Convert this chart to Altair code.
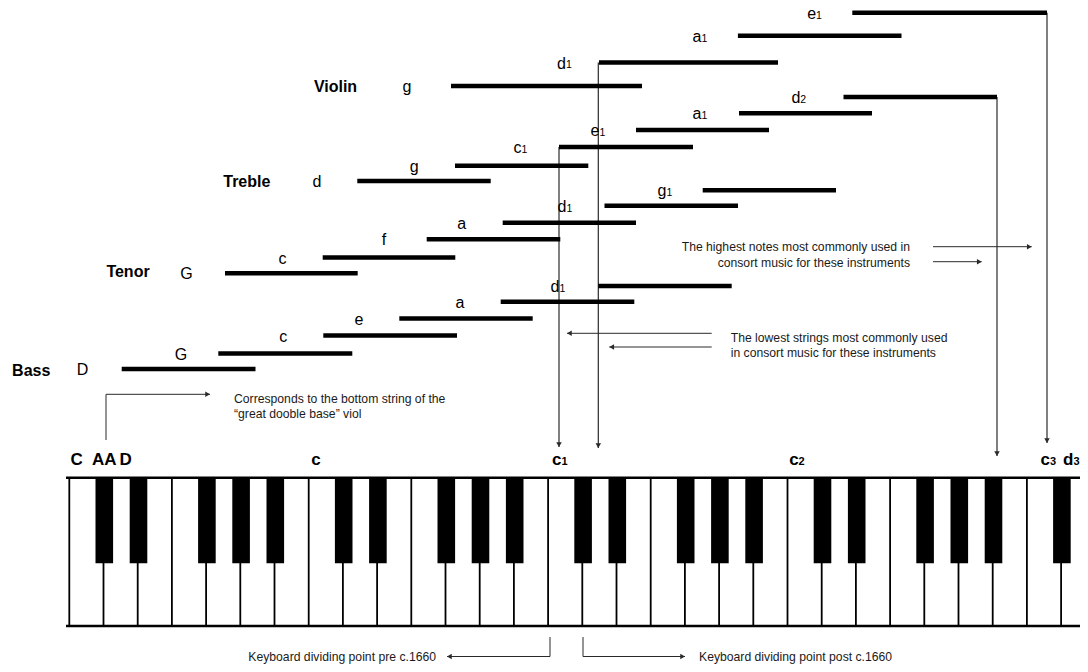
import altair as alt
import pandas as pd

# ---------------- values (diagram units = reference pixels) ----------------
# one bar per open string: from the open note to the highest note normally played on it
string_instr = ["Bass"] * 6 + ["Tenor"] * 6 + ["Treble"] * 6 + ["Violin"] * 4
string_note = ["D", "G", "c", "e", "a", "d",
               "G", "c", "f", "a", "d", "g",
               "d", "g", "c", "e", "a", "d",
               "g", "d", "a", "e"]
string_sub = ["", "", "", "", "", "1",
              "", "", "", "", "1", "1",
              "", "", "1", "1", "1", "2",
              "", "1", "1", "1"]
string_start = [121.7, 218.3, 323.3, 399.3, 500.7, 598.3,
                225.0, 322.7, 426.7, 502.7, 604.5, 702.7,
                357.3, 455.0, 559.0, 636.0, 739.0, 843.5,
                451.0, 599.0, 737.9, 852.3]
string_end = [255.5, 352.3, 457.0, 532.7, 634.3, 731.7,
              357.7, 455.3, 560.3, 636.0, 738.0, 836.0,
              490.7, 588.3, 693.0, 769.0, 872.0, 997.0,
              642.0, 778.0, 901.5, 1047.0]
string_y = [369.0, 353.5, 335.5, 318.5, 301.7, 286.0,
            273.3, 257.5, 239.3, 222.7, 205.7, 190.3,
            181.0, 165.7, 147.0, 130.0, 113.3, 97.0,
            86.0, 62.5, 35.7, 12.7]
string_label_x = [82.5, 181.0, 283.3, 359.0, 460.0, 558.0,
                  186.5, 282.5, 384.0, 461.7, 565.0, 665.0,
                  317.0, 414.3, 520.0, 598.0, 700.0, 798.8,
                  407.0, 564.5, 700.0, 814.6]

instrument_names = ["Bass", "Tenor", "Treble", "Violin"]
instrument_x = [31.2, 128.0, 246.8, 335.5]
instrument_y = [370.0, 270.7, 180.7, 85.7]

# keyboard
white_key_names = ["C", "D", "E", "F", "G", "A", "B"]
n_white_keys = 31
black_after = ["C", "D", "F", "G", "A"]
keyboard_label_base = ["C", "AA", "D", "c", "c", "c", "c", "d"]
keyboard_label_sub = ["", "", "", "", "1", "2", "3", "3"]
keyboard_label_x = [76.7, 104.2, 125.6, 316.0, 559.5, 796.6, 1047.9, 1071.5]

# pointers from the ranges down to the keyboard
pointer_x = [559.0, 598.3, 997.0, 1047.0]
pointer_top = [147.0, 62.5, 97.0, 12.7]
pointer_tip = [447.0, 448.0, 456.0, 443.0]

# annotation leader lines
leader_x1 = [933.0, 933.0, 711.7, 711.7, 106.0, 106.0, 550.0, 550.0, 583.0, 583.0]
leader_y1 = [246.7, 261.7, 333.3, 347.0, 440.0, 394.3, 637.0, 656.5, 637.0, 656.5]
leader_x2 = [1031.7, 981.7, 567.0, 609.3, 106.0, 210.0, 550.0, 447.0, 583.0, 685.0]
leader_y2 = [246.7, 261.7, 333.3, 347.0, 394.3, 394.3, 656.5, 656.5, 656.5, 656.5]
leader_head = ["right", "right", "left", "left", "", "right", "", "left", "", "right"]

note_text = ["The highest notes most commonly used in",
             "consort music for these instruments",
             "The lowest strings most commonly used",
             "in consort music for these instruments",
             "Corresponds to the bottom string of the",
             "\u201cgreat dooble base\u201d viol",
             "Keyboard dividing point pre c.1660",
             "Keyboard dividing point post c.1660"]
note_x = [910.0, 910.0, 730.7, 730.7, 234.0, 234.0, 436.0, 699.0]
note_y = [247.3, 263.3, 337.7, 353.3, 398.5, 414.3, 656.5, 656.5]
note_align = ["right", "right", "left", "left", "left", "left", "right", "left"]

# ---------------- layout ----------------
KB_LEFT, KB_KEY = 69.3, 34.2
KB_TOP, KB_BOTTOM, BLACK_BOTTOM, BLACK_W = 477.7, 626.0, 563.3, 17.6
LINE = "#2a2a2a"
FONT = "Liberation Sans"

X = alt.Scale(domain=[8, 1080], nice=False, zero=False)
Y = alt.Scale(domain=[8, 664], reverse=True, nice=False, zero=False)


def xq(f):
    return alt.X(f, type="quantitative", scale=X, axis=None)


def yq(f):
    return alt.Y(f, type="quantitative", scale=Y, axis=None)


# keyboard frames
white = pd.DataFrame({"i": list(range(n_white_keys))})
white["name"] = [white_key_names[i % 7] for i in white["i"]]
white["x"] = KB_LEFT + white["i"] * KB_KEY
white["y"] = KB_TOP
white["y2"] = KB_BOTTOM
black = white[white["name"].isin(black_after)].copy()
black["xc"] = KB_LEFT + (black["i"] + 1) * KB_KEY + 0.8
black["x1"] = black["xc"] - BLACK_W / 2
black["x2"] = black["xc"] + BLACK_W / 2
black["y1"] = KB_TOP
black["y2"] = BLACK_BOTTOM
edges = pd.DataFrame({"x": [66.0, 66.0], "x2": [1090.0, 1090.0], "y": [KB_TOP, KB_BOTTOM]})

kb_lab = pd.DataFrame({"base": keyboard_label_base, "sub": keyboard_label_sub, "x": keyboard_label_x})
kb_lab["y"] = 465.3
kb_lab["j"] = kb_lab["x"] + 2.0

strings = pd.DataFrame({"instr": string_instr, "note": string_note, "sub": string_sub,
                        "start": string_start, "end": string_end, "y": string_y,
                        "lx": string_label_x})
strings["j"] = strings["lx"] + 1.5

instr = pd.DataFrame({"name": instrument_names, "x": instrument_x, "y": instrument_y})

pointers = pd.DataFrame({"x": pointer_x, "top": pointer_top, "tip": pointer_tip})
leaders = pd.DataFrame({"x1": leader_x1, "y1": leader_y1, "x2": leader_x2, "y2": leader_y2,
                        "head": leader_head})

heads = []
for r in pointers.itertuples():
    heads.append({"x": r.x, "y": r.tip - 2.4, "dir": "down"})
for r in leaders.itertuples():
    if r.head == "right":
        heads.append({"x": r.x2 - 2.4, "y": r.y2, "dir": "right"})
    elif r.head == "left":
        heads.append({"x": r.x2 + 2.4, "y": r.y2, "dir": "left"})
heads = pd.DataFrame(heads)

notes = pd.DataFrame({"text": note_text, "x": note_x, "y": note_y, "align": note_align})

# ---------------- layers ----------------
key_lines = alt.Chart(white).mark_rule(color="black", strokeWidth=1.8).encode(
    x=xq("x"), y=yq("y"), y2="y2")
edge_lines = alt.Chart(edges).mark_rule(color="black", strokeWidth=2.4).encode(
    x=xq("x"), x2="x2", y=yq("y"))
black_keys = alt.Chart(black).mark_rect(color="black").encode(
    x=xq("x1"), x2="x2", y=yq("y1"), y2="y2")

kb_plain = alt.Chart(kb_lab[kb_lab["sub"] == ""]).mark_text(
    font=FONT, fontSize=17, fontWeight="bold", align="center", baseline="alphabetic", color="black"
).encode(x=xq("x"), y=yq("y"), text="base:N")
kb_base = alt.Chart(kb_lab[kb_lab["sub"] != ""]).mark_text(
    font=FONT, fontSize=17, fontWeight="bold", align="right", baseline="alphabetic", color="black"
).encode(x=xq("j"), y=yq("y"), text="base:N")
kb_sub = alt.Chart(kb_lab[kb_lab["sub"] != ""]).mark_text(
    font=FONT, fontSize=11, fontWeight="bold", align="left", baseline="alphabetic", color="black"
).encode(x=xq("j"), y=yq("y"), text="sub:N")

bars = alt.Chart(strings).mark_rule(color="black", strokeWidth=4.5, strokeCap="butt").encode(
    x=xq("start"), x2="end", y=yq("y"))

pointer_lines = alt.Chart(pointers).mark_rule(color=LINE, strokeWidth=1.2).encode(
    x=xq("x"), y=yq("top"), y2="tip")
leader_lines = alt.Chart(leaders).mark_rule(color=LINE, strokeWidth=1.0).encode(
    x=xq("x1"), y=yq("y1"), x2="x2", y2="y2")
arrow_heads = alt.Chart(heads).mark_point(filled=True, color=LINE, opacity=1, size=30).encode(
    x=xq("x"), y=yq("y"),
    shape=alt.Shape("dir:N", legend=None,
                    scale=alt.Scale(domain=["down", "right", "left"],
                                    range=["triangle-down", "triangle-right", "triangle-left"])))

s_plain = alt.Chart(strings[strings["sub"] == ""]).mark_text(
    font=FONT, fontSize=16, align="center", baseline="middle", color="black", dy=1
).encode(x=xq("lx"), y=yq("y"), text="note:N")
s_base = alt.Chart(strings[strings["sub"] != ""]).mark_text(
    font=FONT, fontSize=16, align="right", baseline="middle", color="black", dy=1
).encode(x=xq("j"), y=yq("y"), text="note:N")
s_sub = alt.Chart(strings[strings["sub"] != ""]).mark_text(
    font=FONT, fontSize=10.5, align="left", baseline="alphabetic", color="black", dy=5.8
).encode(x=xq("j"), y=yq("y"), text="sub:N")

instr_text = alt.Chart(instr).mark_text(
    font=FONT, fontSize=16, fontWeight="bold", align="center", baseline="middle", color="black", dy=1
).encode(x=xq("x"), y=yq("y"), text="name:N")

notes_left = alt.Chart(notes[notes["align"] == "left"]).mark_text(
    font=FONT, fontSize=12.2, align="left", baseline="middle", color="#1a1a1a"
).encode(x=xq("x"), y=yq("y"), text="text:N")
notes_right = alt.Chart(notes[notes["align"] == "right"]).mark_text(
    font=FONT, fontSize=12.2, align="right", baseline="middle", color="#1a1a1a"
).encode(x=xq("x"), y=yq("y"), text="text:N")

chart = alt.layer(
    key_lines, black_keys, edge_lines, kb_plain, kb_base, kb_sub,
    pointer_lines, leader_lines, arrow_heads, bars,
    s_plain, s_base, s_sub, instr_text, notes_left, notes_right
).properties(
    width=1072, height=656, padding=0,
    autosize=alt.AutoSizeParams(type="none")
).configure_view(strokeWidth=0)

chart.save("out.html", embed_options={"renderer": "svg", "actions": False})
